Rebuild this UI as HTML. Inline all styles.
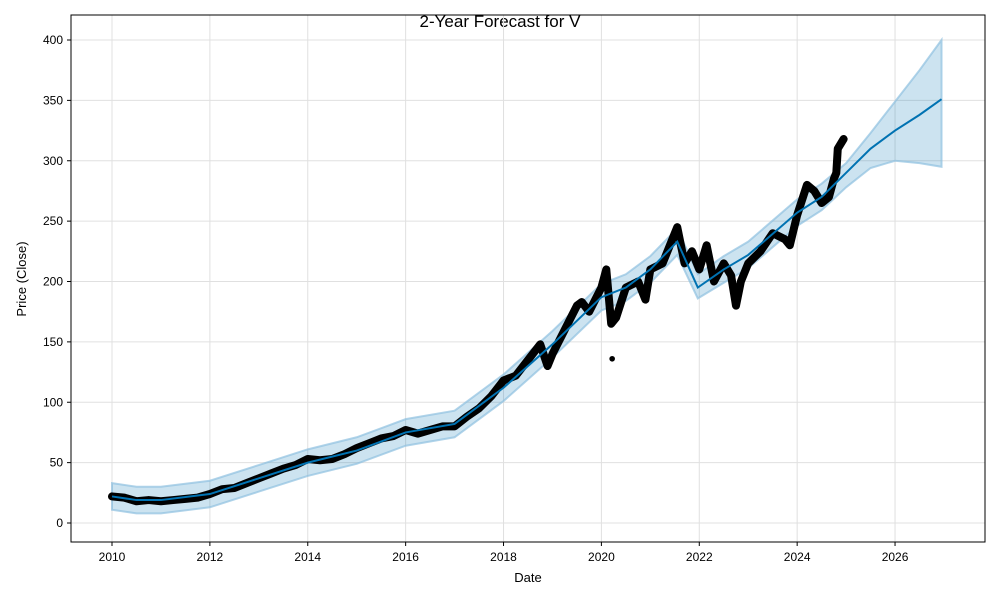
<!DOCTYPE html>
<html><head><meta charset="utf-8"><style>
body{margin:0;background:#fff;font-family:"Liberation Sans","DejaVu Sans",sans-serif}
</style></head><body>
<svg id="chart" width="1000" height="600" xmlns="http://www.w3.org/2000/svg">
<text x="500" y="27" text-anchor="middle" font-size="17">2-Year Forecast for V</text>
<g id="grid"></g>
<g id="band"></g>
<g id="actual"></g>
<g id="trend"></g>
<rect x="71" y="15" width="914" height="527" fill="none" stroke="#000" stroke-width="1"/>
<g id="axes"></g>
<text x="528" y="582" text-anchor="middle" font-size="13">Date</text>
<text x="26" y="279" text-anchor="middle" font-size="13" transform="rotate(-90 26 279)">Price (Close)</text>
</svg>
<script>
const xTicks=[2010,2012,2014,2016,2018,2020,2022,2024,2026];
const yTicks=[0,50,100,150,200,250,300,350,400];
const actualT=[2010,2010.25,2010.5,2010.75,2011,2011.25,2011.5,2011.75,2012,2012.25,2012.5,2012.75,2013,2013.25,2013.5,2013.75,2014,2014.25,2014.5,2014.75,2015,2015.25,2015.5,2015.75,2016,2016.25,2016.5,2016.75,2017,2017.25,2017.5,2017.75,2018,2018.25,2018.5,2018.75,2018.9,2019,2019.25,2019.5,2019.6,2019.75,2020,2020.1,2020.2,2020.3,2020.5,2020.75,2020.9,2021,2021.25,2021.4,2021.55,2021.7,2021.85,2022,2022.15,2022.3,2022.5,2022.65,2022.75,2022.85,2023,2023.25,2023.5,2023.75,2023.85,2024,2024.2,2024.35,2024.5,2024.65,2024.75,2024.8,2024.83,2024.95];
const actualV=[22,21,18,19,18,19,20,21,24,28,29,33,37,41,45,48,53,52,53,57,62,66,70,72,77,74,77,80,80,88,95,105,118,122,135,148,130,140,160,180,183,175,195,210,165,170,195,200,185,210,215,230,245,215,225,210,230,200,215,205,180,200,215,225,240,235,230,255,280,275,265,270,285,290,310,318];
const outlierT=[2020.22];
const outlierV=[136];
const fcT=[2010,2010.5,2011,2012,2013,2014,2015,2016,2017,2018,2019,2020,2020.5,2021,2021.55,2021.97,2022.5,2023,2024,2024.5,2025,2025.5,2026,2026.5,2026.95];
const fcV=[22,19,19,24,37,50,60,75,82,112,148,187,195,210,233,195,210,222,257,270,290,310,325,338,351];
const fcLo=[11,8,8,13,26,39,49,64,71,101,137,176,184,199,222,186,199,211,246,259,278,294,300,298,295];
const fcHi=[33,30,30,35,48,61,71,86,93,123,159,198,206,221,244,206,221,233,268,281,298,323,349,375,400];
const X=t=>112+(t-2010)*48.94;
const Y=v=>523-v*1.2075;
const NS="http://www.w3.org/2000/svg";
function mk(tag,attrs,parent){const e=document.createElementNS(NS,tag);for(const k in attrs)e.setAttribute(k,attrs[k]);parent.appendChild(e);return e;}
const grid=document.getElementById('grid'),axes=document.getElementById('axes');
xTicks.forEach(t=>{
 const g=mk('line',{x1:X(t),x2:X(t),y1:15,y2:542,stroke:'#e0e0e0','stroke-width':1},grid);
 
 
 const tk=mk('line',{x1:X(t),x2:X(t),y1:542,y2:546,stroke:'#000'},axes);
 
 
 const tx=mk('text',{x:X(t),y:561,'text-anchor':'middle','font-size':12},axes);tx.textContent=t;
 
 
});
yTicks.forEach(v=>{
 const g=mk('line',{x1:71,x2:985,y1:Y(v),y2:Y(v),stroke:'#e0e0e0','stroke-width':1},grid);
 
 
 const tk=mk('line',{x1:67,x2:71,y1:Y(v),y2:Y(v),stroke:'#000'},axes);
 
 
 const tx=mk('text',{x:63,y:Y(v)+4,'text-anchor':'end','font-size':12},axes);tx.textContent=v;
 
 
});
let d='';fcT.forEach((t,i)=>d+=(i?'L':'M')+X(t)+','+Y(fcHi[i]));
for(let i=fcT.length-1;i>=0;i--)d+='L'+X(fcT[i])+','+Y(fcLo[i]);
const b=mk('path',{d:d+'Z',fill:'#0072B2','fill-opacity':0.2,stroke:'#8ec1e0','stroke-opacity':0.7,'stroke-width':2},document.getElementById('band'));


const ap=mk('polyline',{points:actualT.map((t,i)=>X(t)+','+Y(actualV[i])).join(' '),fill:'none',stroke:'#000','stroke-width':8,'stroke-linejoin':'round','stroke-linecap':'round'},document.getElementById('actual'));


outlierT.forEach((t,i)=>{
 const c=mk('circle',{cx:X(t),cy:Y(outlierV[i]),r:2.8,fill:'#000'},document.getElementById('actual'));
 
 
});
const fl=mk('polyline',{points:fcT.map((t,i)=>X(t)+','+Y(fcV[i])).join(' '),fill:'none',stroke:'#0072B2','stroke-width':2},document.getElementById('trend'));


</script>
</body></html>
